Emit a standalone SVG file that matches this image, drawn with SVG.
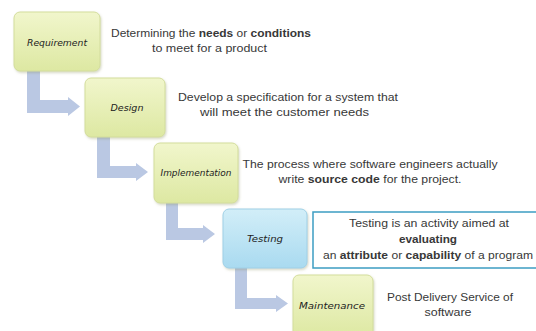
<svg xmlns="http://www.w3.org/2000/svg" width="536" height="331" viewBox="0 0 536 331">
<defs>
<linearGradient id="gGreen" x1="0" y1="0" x2="0" y2="1">
<stop offset="0" stop-color="#f1f6cc"/>
<stop offset="1" stop-color="#dde8a2"/>
</linearGradient>
<linearGradient id="gBlue" x1="0" y1="0" x2="0" y2="1">
<stop offset="0" stop-color="#d2eef8"/>
<stop offset="1" stop-color="#a9daf0"/>
</linearGradient>
<filter id="sh" x="-10%" y="-10%" width="130%" height="130%">
<feDropShadow dx="1" dy="1.5" stdDeviation="1.2" flood-color="#8a9060" flood-opacity="0.35"/>
</filter>
</defs>
<style>
.box{stroke:#d3dd9c;stroke-width:1;filter:url(#sh)}
.green{fill:url(#gGreen)}
.blue{fill:url(#gBlue);stroke:#9fd0e6}
.lbl{font-family:"DejaVu Sans Condensed","DejaVu Sans",sans-serif;font-size:9.5px;fill:#222;text-anchor:middle;font-style:italic}
.desc{font-family:"Liberation Sans",Arial,sans-serif;font-size:11.3px;fill:#383838;text-anchor:middle}
.b{font-weight:bold}
.arrow{fill:#bac8e3}
.tbox{fill:#ffffff;stroke:#3d9dc2;stroke-width:1.5}
</style>
<rect width="536" height="331" fill="#ffffff"/>
<g id="connectors">
<path class="arrow" d="M27,66 V113 H68 V116 L80,106.5 L68,97 V100 H40 V66 Z"/>
<path class="arrow" d="M97,132 V178 H136 V181 L148,172 L136,163 V166 H110 V132 Z"/>
<path class="arrow" d="M166,198 V240 H203 V243 L215,234 L203,225 V228 H178 V198 Z"/>
<path class="arrow" d="M235,263 V309 H276 V312 L288,303.5 L276,295 V298 H247 V263 Z"/>
</g>
<g id="requirement">
<rect class="box green" x="14" y="12" width="86" height="59" rx="6"/>
<text class="lbl" x="57" y="45.5" textLength="60" lengthAdjust="spacingAndGlyphs">Requirement</text>
<text class="desc" x="211" y="37" textLength="200" lengthAdjust="spacingAndGlyphs">Determining the <tspan class="b">needs</tspan> or <tspan class="b">conditions</tspan></text>
<text class="desc" x="209.5" y="52" textLength="115" lengthAdjust="spacingAndGlyphs">to meet for a product</text>
</g>
<g id="design">
<rect class="box green" x="85" y="78" width="80" height="59" rx="6"/>
<text class="lbl" x="127" y="110.5" textLength="33" lengthAdjust="spacingAndGlyphs">Design</text>
<text class="desc" x="288" y="101" textLength="220" lengthAdjust="spacingAndGlyphs">Develop a specification for a system that</text>
<text class="desc" x="284.5" y="116" textLength="169" lengthAdjust="spacingAndGlyphs">will meet the customer needs</text>
</g>
<g id="implementation">
<rect class="box green" x="154" y="143" width="84" height="60" rx="6"/>
<text class="lbl" x="196" y="175.5" textLength="71" lengthAdjust="spacingAndGlyphs">Implementation</text>
<text class="desc" x="370" y="168" textLength="255" lengthAdjust="spacingAndGlyphs">The process where software engineers actually</text>
<text class="desc" x="370" y="183" textLength="183" lengthAdjust="spacingAndGlyphs">write <tspan class="b">source code</tspan> for the project.</text>
</g>
<g id="testing">
<rect class="box blue" x="223" y="209" width="84" height="59" rx="6"/>
<text class="lbl" x="265" y="241.5" textLength="36" lengthAdjust="spacingAndGlyphs">Testing</text>
<rect class="tbox" x="313" y="212" width="230" height="56"/>
<text class="desc" x="429" y="227" textLength="160" lengthAdjust="spacingAndGlyphs">Testing is an activity aimed at</text>
<text class="desc b" x="428" y="243" textLength="58" lengthAdjust="spacingAndGlyphs">evaluating</text>
<text class="desc" x="428" y="259" textLength="210" lengthAdjust="spacingAndGlyphs">an <tspan class="b">attribute</tspan> or <tspan class="b">capability</tspan> of a program</text>
</g>
<g id="maintenance">
<rect class="box green" x="293" y="275" width="80" height="62" rx="6"/>
<text class="lbl" x="332" y="308.5" textLength="66" lengthAdjust="spacingAndGlyphs">Maintenance</text>
<text class="desc" x="450" y="301" textLength="126" lengthAdjust="spacingAndGlyphs">Post Delivery Service of</text>
<text class="desc" x="448" y="316" textLength="47" lengthAdjust="spacingAndGlyphs">software</text>
</g>
</svg>
